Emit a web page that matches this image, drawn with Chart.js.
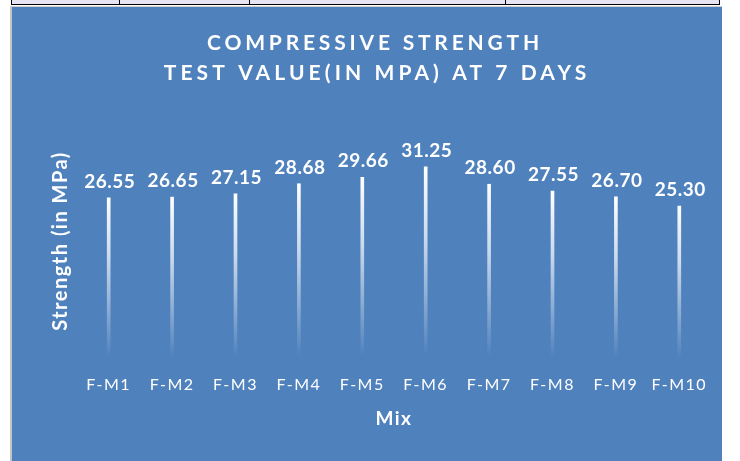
<!DOCTYPE html>
<html>
<head>
<meta charset="utf-8">
<script src="https://cdn.jsdelivr.net/npm/chart.js@4.4.0/dist/chart.umd.min.js"></script>
<style>
	body { margin: 0; background: #fff; width: 740px; height: 461px; position: relative; overflow: hidden; }
	.tbl { position: absolute; left: 11px; top: 0; width: 708px; height: 4px; background: #e6e4f2; border-bottom: 1px solid #000; }
	.vl { position: absolute; top: 0; width: 1px; height: 5px; background: #000; }
	.panel { position: absolute; left: 10px; top: 6px; width: 712px; height: 455px; background: #4f81bd; border-left: 2px solid #c4c4c4; border-top: 1px solid #d0d0d0; box-sizing: border-box; }
	.wrap { position: absolute; left: 12px; top: 7px; width: 710px; height: 454px; }
</style>
</head>
<body>
<div class="tbl"></div>
<div class="vl" style="left:11px"></div>
<div class="vl" style="left:119px"></div>
<div class="vl" style="left:249px"></div>
<div class="vl" style="left:505px"></div>
<div class="vl" style="left:719px"></div>
<div class="panel"></div>
<div class="wrap"><canvas id="strengthChart"></canvas></div>
<script>
const mixes = ["F-M1", "F-M2", "F-M3", "F-M4", "F-M5", "F-M6", "F-M7", "F-M8", "F-M9", "F-M10"];
const strength = [26.55, 26.65, 27.15, 28.68, 29.66, 31.25, 28.6, 27.55, 26.7, 25.3];
const chartTitle = ["COMPRESSIVE STRENGTH", "TEST VALUE(IN MPA) AT 7 DAYS"];
const yTitle = "Strength (in MPa)";
const xTitle = "Mix";

Chart.defaults.color = "#fff";
Chart.defaults.font.family = "Lato";

// white at the top of each bar, fading out towards the axis
function barFill(c) {
	const { chart } = c;
	const y = chart.scales.y;
	if (!chart.chartArea || c.type !== "data" || !y) return "#ffffff";
	const top = y.getPixelForValue(c.parsed.y);
	const base = y.getPixelForValue(0);
	const g = chart.ctx.createLinearGradient(0, top, 0, base);
	g.addColorStop(0, "rgba(255,255,255,1)");
	g.addColorStop(0.35, "rgba(255,255,255,0.7)");
	g.addColorStop(0.92, "rgba(255,255,255,0)");
	return g;
}

// excel text is a bit wider than Lato, so open it up a little
const textSpacing = {
	id: "textSpacing",
	beforeDraw(chart) {
		chart.ctx.letterSpacing = "1.5px";
	},
};

const valueLabels = {
	id: "valueLabels",
	afterDatasetsDraw(chart) {
		const { ctx } = chart;
		const meta = chart.getDatasetMeta(0);
		ctx.save();
		ctx.font = "bold 19px Lato";
		ctx.letterSpacing = "0.5px";
		ctx.fillStyle = "#fff";
		ctx.textAlign = "center";
		ctx.textBaseline = "alphabetic";
		meta.data.forEach((bar, i) => {
			ctx.fillText(strength[i].toFixed(2), bar.x + 1, bar.y - 10);
		});
		ctx.restore();
	},
};

const spacedTitle = {
	id: "spacedTitle",
	afterDraw(chart) {
		const { ctx } = chart;
		ctx.save();
		ctx.font = "bold 21px Lato";
		ctx.fillStyle = "#fff";
		ctx.textAlign = "center";
		ctx.textBaseline = "alphabetic";
		ctx.letterSpacing = "3.8px";
		ctx.fillText(chartTitle[0], 363, 43);
		ctx.letterSpacing = "4.1px";
		ctx.fillText(chartTitle[1], 365, 73);
		ctx.restore();
	},
};

new Chart(document.getElementById("strengthChart"), {
	type: "bar",
	data: {
		labels: mixes,
		datasets: [
			{
				data: strength,
				backgroundColor: barFill,
				barThickness: 3,
				borderWidth: 0,
			},
		],
	},
	options: {
		responsive: true,
		maintainAspectRatio: false,
		animation: false,
		layout: { padding: { top: 102, right: 11, left: 0, bottom: 0 } },
		scales: {
			x: {
				grid: { display: false, drawTicks: false },
				border: { display: false },
				ticks: { color: "#fff", font: { size: 16 }, padding: 2 },
				title: {
					display: true,
					text: xTitle,
					color: "#fff",
					font: { size: 19, weight: "bold" },
					padding: { top: 0, bottom: 31 },
				},
				afterFit(s) {
					s.height = 88;
				},
			},
			y: {
				min: 0,
				max: 40,
				grid: { display: false, drawTicks: false },
				border: { display: false },
				ticks: { display: false },
				title: {
					display: true,
					text: yTitle,
					color: "#fff",
					font: { size: 20, weight: "bold" },
					padding: { top: 37, bottom: 0 },
				},
				afterFit(s) {
					s.width = 65;
				},
			},
		},
		plugins: {
			legend: { display: false },
			tooltip: { enabled: false },
		},
		hover: { mode: null },
	},
	plugins: [textSpacing, valueLabels, spacedTitle],
});
</script>
</body>
</html>
